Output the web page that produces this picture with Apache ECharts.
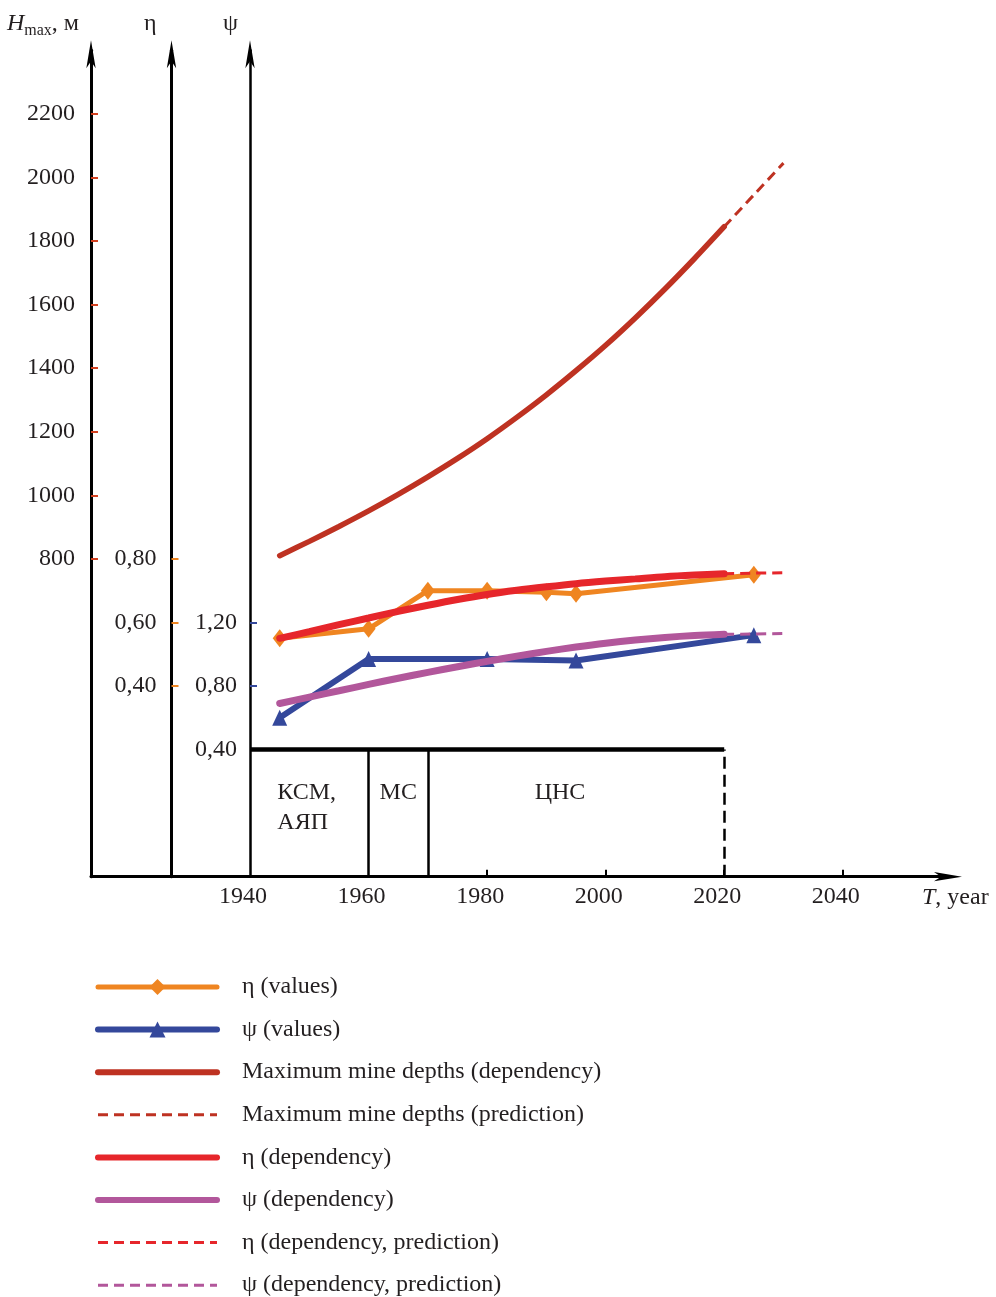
<!DOCTYPE html>
<html><head><meta charset="utf-8">
<script src="https://cdn.jsdelivr.net/npm/echarts@6/dist/echarts.min.js"></script>
<style>html,body{margin:0;padding:0;background:#fff}#chart{width:996px;height:1297px}</style>
</head><body><div id="chart"></div>
<script>
// ---- tick / label values ----
const depthTicks = [800, 1000, 1200, 1400, 1600, 1800, 2000, 2200];
const etaTicks = [0.40, 0.60, 0.80];
const psiTicks = [0.80, 1.20];
const psiLabels = [0.40, 0.80, 1.20];
const yearLabels = [1940, 1960, 1980, 2000, 2020, 2040];
const yearTicks = [1980, 2000, 2020, 2040];

// ---- measured values ----
const etaYears = [1945, 1960, 1970, 1980, 1990, 1995, 2025];
const etaValues = [0.55, 0.58, 0.70, 0.70, 0.695, 0.69, 0.75];
const psiYears = [1945, 1960, 1980, 1995, 2025];
const psiValues = [0.60, 0.97, 0.97, 0.96, 1.12];

// ---- dependencies ----
const depYears = [1945, 1950, 1955, 1960, 1965, 1970, 1975, 1980, 1985, 1990, 1995, 2000, 2005, 2010, 2015, 2020];
const depthDep = [810, 855, 902, 951, 1003, 1058, 1116, 1178, 1245, 1316, 1392, 1472, 1558, 1649, 1745, 1845];
const etaDep = [0.55, 0.571, 0.593, 0.614, 0.635, 0.654, 0.672, 0.688, 0.701, 0.712, 0.722, 0.730, 0.737, 0.744, 0.749, 0.753];
const psiDep = [0.69, 0.73, 0.77, 0.81, 0.849, 0.886, 0.921, 0.955, 0.988, 1.018, 1.045, 1.069, 1.089, 1.105, 1.117, 1.125];

// ---- predictions ----
const predYears = [2020, 2025, 2030];
const depthPred = [1845, 1945, 2045];
const etaPred = [0.753, 0.755, 0.756];
const psiPred = [1.125, 1.127, 1.13];

// ---- periods ----
const periodBounds = [1940, 1960, 1970, 2020];
const periodNames = ['КСМ,\nАЯП', 'МС', 'ЦНС'];
const periodLevel = 0.40;

// ---- layout / style constants ----
const SERIF = "'Liberation Serif', 'DejaVu Serif', serif";
const TXT = '#231f20';
const ORANGE = '#ef8521';
const BLUE = '#34489b';
const BRICK = '#be3222';
const RED = '#e6262b';
const PURPLE = '#b2579b';
const X_MIN = 1913.16, X_MAX = 2058.1;
const H_MIN = -200, H_MAX = 2400;
const E_MIN = -0.2, E_MAX = 2.4;
const P_MIN = -0.4, P_MAX = 4.8;

const zip = (xs, ys) => xs.map((x, i) => [x, ys[i]]);
const comma = v => v.toFixed(2).replace('.', ',');

const arrow = { symbol: ['none', 'arrow'], symbolSize: [7, 28], symbolOffset: [0, 10] };

function yAxis(opts) {
  return Object.assign({
    type: 'value', position: 'left', splitLine: { show: false },
    axisLine: Object.assign({ show: true, onZero: false, lineStyle: { color: '#000', width: 3 } }, arrow),
    nameLocation: 'end', nameGap: 12
  }, opts);
}

const labelStyle = { fontFamily: SERIF, fontSize: 24, lineHeight: 24, color: TXT };

const option = {
  animation: false,
  backgroundColor: '#fff',
  grid: { left: 91, right: 46, top: 50.3, bottom: 420.3, containLabel: false, outerBoundsMode: 'none' },
  xAxis: {
    type: 'value', min: X_MIN, max: X_MAX, splitLine: { show: false },
    axisLine: { show: true, onZero: false, lineStyle: { color: '#000', width: 3 }, symbol: ['none', 'arrow'], symbolSize: [7, 28], symbolOffset: [0, 12] },
    axisTick: { show: true, inside: true, length: 7, lineStyle: { color: '#000', width: 2 }, customValues: yearTicks },
    axisLabel: Object.assign({ customValues: yearLabels, margin: 8, padding: [0, 14, 0, 0], formatter: v => String(v) }, labelStyle),
    name: '{i|T}{r|, year}',
    nameLocation: 'end', nameGap: -28,
    nameTextStyle: {
      align: 'left', verticalAlign: 'top', padding: [9, 0, 0, 0],
      rich: {
        i: { fontFamily: SERIF, fontSize: 24, fontStyle: 'italic', color: TXT, lineHeight: 24 },
        r: { fontFamily: SERIF, fontSize: 24, color: TXT, lineHeight: 24 }
      }
    }
  },
  yAxis: [
    yAxis({
      min: H_MIN, max: H_MAX, offset: 0,
      axisTick: { show: true, inside: true, length: 7, lineStyle: { color: '#d2401f', width: 2 }, customValues: depthTicks },
      axisLabel: Object.assign({ customValues: depthTicks, margin: 16, formatter: v => String(v) }, labelStyle),
      name: '{i|H}{s|max}{r|, м}',
      nameTextStyle: {
        align: 'right', padding: [0, 12, 0, 0],
        rich: {
          i: { fontFamily: SERIF, fontSize: 24, fontStyle: 'italic', color: TXT, lineHeight: 30 },
          s: { fontFamily: SERIF, fontSize: 16, color: TXT, lineHeight: 16, verticalAlign: 'bottom' },
          r: { fontFamily: SERIF, fontSize: 24, color: TXT, lineHeight: 30 }
        }
      }
    }),
    yAxis({
      min: E_MIN, max: E_MAX, offset: -80.5,
      axisTick: { show: true, inside: true, length: 7, lineStyle: { color: ORANGE, width: 2 }, customValues: etaTicks },
      axisLabel: Object.assign({ customValues: etaTicks, margin: 15, formatter: comma }, labelStyle),
      name: 'η',
      nameTextStyle: { align: 'right', padding: [0, 15, 0, 0], fontFamily: SERIF, fontSize: 24, lineHeight: 30, color: TXT }
    }),
    yAxis({
      min: P_MIN, max: P_MAX, offset: -159,
      axisLine: Object.assign({ show: true, onZero: false, lineStyle: { color: '#000', width: 2.5 } }, arrow),
      axisTick: { show: true, inside: true, length: 7, lineStyle: { color: BLUE, width: 2 }, customValues: psiTicks },
      axisLabel: Object.assign({ customValues: psiLabels, margin: 13, formatter: comma }, labelStyle),
      name: 'ψ',
      nameTextStyle: { align: 'right', padding: [0, 12, 0, 0], fontFamily: SERIF, fontSize: 24, lineHeight: 30, color: TXT }
    })
  ],
  legend: {
    orient: 'vertical', left: 95, top: 975, height: 340, padding: 0,
    itemWidth: 119, itemHeight: 20, itemGap: 18.6,
    selectedMode: false,
    textStyle: { fontFamily: SERIF, fontSize: 24, lineHeight: 24, color: TXT, padding: [0, 0, 0, 20] },
    lineStyle: { cap: 'round' },
    data: [
      { name: 'η (values)', lineStyle: { width: 5, cap: 'round' } },
      { name: 'ψ (values)', lineStyle: { width: 6, cap: 'round' } },
      { name: 'Maximum mine depths (dependency)', lineStyle: { width: 6, cap: 'round' }, itemStyle: { opacity: 0 } },
      { name: 'Maximum mine depths (prediction)', lineStyle: { width: 3, cap: 'butt' }, itemStyle: { opacity: 0 } },
      { name: 'η (dependency)', lineStyle: { width: 6, cap: 'round' }, itemStyle: { opacity: 0 } },
      { name: 'ψ (dependency)', lineStyle: { width: 6, cap: 'round' }, itemStyle: { opacity: 0 } },
      { name: 'η (dependency, prediction)', lineStyle: { width: 3, cap: 'butt' }, itemStyle: { opacity: 0 } },
      { name: 'ψ (dependency, prediction)', lineStyle: { width: 3, cap: 'butt' }, itemStyle: { opacity: 0 } }
    ]
  },
  series: [
    {
      name: 'periods', type: 'line', xAxisIndex: 0, yAxisIndex: 2, silent: true, z: 1,
      data: [[periodBounds[0], periodLevel], [periodBounds[periodBounds.length - 1], periodLevel]],
      symbol: 'none', lineStyle: { color: '#000', width: 4.5, cap: 'butt' },
      markLine: {
        silent: true, symbol: 'none', label: { show: false },
        lineStyle: { color: '#000', width: 2.5, type: 'solid' },
        data: periodBounds.slice(1).map((b, i, arr) => [
          { coord: [b, P_MIN], lineStyle: i === arr.length - 1 ? { type: [12, 6], width: 2.5, color: '#000' } : { type: 'solid', width: 2.5, color: '#000' } },
          { coord: [b, periodLevel] }
        ])
      }
    },
    {
      name: 'periodLabels', type: 'scatter', xAxisIndex: 0, yAxisIndex: 2, silent: true, symbolSize: 0,
      itemStyle: { opacity: 1 },
      data: periodNames.map((n, i) => ({
        value: [(periodBounds[i] + periodBounds[i + 1]) / 2, periodLevel],
        label: i === 0 ? { align: 'left', offset: [-32, 0] } : (i === 2 ? { offset: [-16, 0] } : {})
      })),
      label: {
        show: true, position: 'bottom', distance: 28, opacity: 1,
        formatter: p => periodNames[p.dataIndex],
        fontFamily: SERIF, fontSize: 24, lineHeight: 30, color: TXT
      }
    },
    {
      name: 'η (values)', type: 'line', xAxisIndex: 0, yAxisIndex: 1, z: 3,
      data: zip(etaYears, etaValues),
      symbol: 'diamond', symbolSize: [14, 18],
      lineStyle: { color: ORANGE, width: 5 }, itemStyle: { color: ORANGE }
    },
    {
      name: 'ψ (values)', type: 'line', xAxisIndex: 0, yAxisIndex: 2, z: 3,
      data: zip(psiYears, psiValues),
      symbol: 'triangle', symbolSize: [15, 16],
      lineStyle: { color: BLUE, width: 6 }, itemStyle: { color: BLUE }
    },
    {
      name: 'Maximum mine depths (dependency)', type: 'line', xAxisIndex: 0, yAxisIndex: 0, z: 4,
      data: zip(depYears, depthDep), smooth: 0.3, symbol: 'none',
      lineStyle: { color: BRICK, width: 5.5, cap: 'round' }, itemStyle: { color: BRICK }
    },
    {
      name: 'Maximum mine depths (prediction)', type: 'line', xAxisIndex: 0, yAxisIndex: 0, z: 4,
      data: zip(predYears, depthPred), smooth: 0.3, symbol: 'none',
      lineStyle: { color: BRICK, width: 3, type: [10, 6] }, itemStyle: { color: BRICK }
    },
    {
      name: 'η (dependency)', type: 'line', xAxisIndex: 0, yAxisIndex: 1, z: 4,
      data: zip(depYears, etaDep), smooth: 0.3, symbol: 'none',
      lineStyle: { color: RED, width: 7, cap: 'round' }, itemStyle: { color: RED }
    },
    {
      name: 'ψ (dependency)', type: 'line', xAxisIndex: 0, yAxisIndex: 2, z: 4,
      data: zip(depYears, psiDep), smooth: 0.3, symbol: 'none',
      lineStyle: { color: PURPLE, width: 7, cap: 'round' }, itemStyle: { color: PURPLE }
    },
    {
      name: 'η (dependency, prediction)', type: 'line', xAxisIndex: 0, yAxisIndex: 1, z: 4,
      data: zip(predYears, etaPred), smooth: 0.3, symbol: 'none',
      lineStyle: { color: RED, width: 3, type: [10, 6] }, itemStyle: { color: RED }
    },
    {
      name: 'ψ (dependency, prediction)', type: 'line', xAxisIndex: 0, yAxisIndex: 2, z: 4,
      data: zip(predYears, psiPred), smooth: 0.3, symbol: 'none',
      lineStyle: { color: PURPLE, width: 3, type: [10, 6] }, itemStyle: { color: PURPLE }
    }
  ]
};

const chart = echarts.init(document.getElementById('chart'), null, { renderer: 'canvas' });
chart.setOption(option);
</script>
</body></html>
